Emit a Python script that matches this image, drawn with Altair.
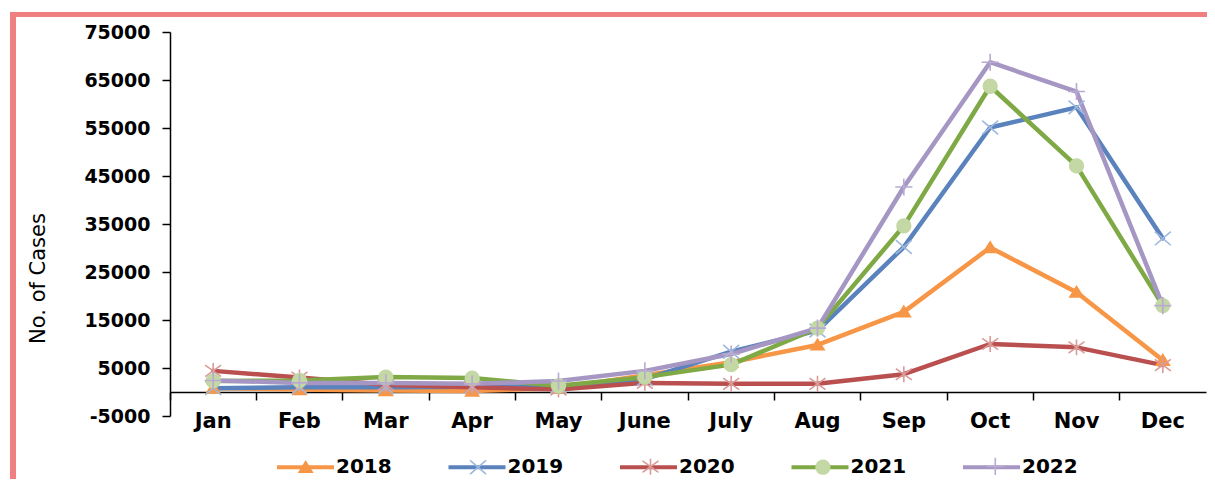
import altair as alt
import pandas as pd

# ---------------- data ----------------
months = ["Jan", "Feb", "Mar", "Apr", "May", "June", "July", "Aug", "Sep", "Oct", "Nov", "Dec"]
years = ["2018", "2019", "2020", "2021", "2022"]

cases_2018 = [800, 500, 300, 200, 800, 3500, 6200, 9800, 16700, 30100, 20800, 6600]
cases_2019 = [800, 1000, 1000, 1100, 1200, 2700, 8400, 12800, 30200, 55100, 59300, 32000]
cases_2020 = [4400, 3000, 1500, 1000, 500, 1900, 1700, 1700, 3700, 10000, 9300, 5600]
cases_2021 = [2300, 2400, 3100, 2900, 1300, 3100, 5700, 13300, 34600, 63700, 47100, 18000]
cases_2022 = [2400, 1900, 1900, 1700, 2300, 4400, 7900, 13300, 42700, 68700, 62600, 18000]

y_ticks = [-5000, 5000, 15000, 25000, 35000, 45000, 55000, 65000, 75000]

# ---------------- styles ----------------
line_colors = ["#f79646", "#5a82bd", "#b9504f", "#7fa945", "#a596c3"]
marker_colors = ["#f79646", "#9fb8df", "#d99a98", "#c3d8a4", "#b8aad0"]
border_color = "#f07f7f"

# custom symbol paths (unit frame -1..1); the leading moves keep the same extent
BB = "M-1,0M1,0"
marker_paths = [
    BB + "M0,-0.2L0.23,0.17L-0.23,0.17Z",                                   # triangle
    BB + "M-0.28,-0.24L0.28,0.24M-0.28,0.24L0.28,-0.24",                     # x
    BB + "M-0.28,-0.2L0.28,0.2M-0.28,0.2L0.28,-0.2M0,-0.28V0.28",            # asterisk
    BB + "M-0.24,0A0.24,0.24,0,1,1,0.24,0A0.24,0.24,0,1,1,-0.24,0Z",         # circle
    BB + "M-0.3,0H0.3M0,-0.3V0.3",                                           # plus
]
SYM = 3249  # 57px wide legend symbols

series = [cases_2018, cases_2019, cases_2020, cases_2021, cases_2022]
rows = []
for yr, vals in zip(years, series):
    for i, (m, v) in enumerate(zip(months, vals)):
        rows.append({"Month": m, "MonthIdx": i, "Year": yr, "Cases": v})
df = pd.DataFrame(rows)

W, H = 1036, 384

common_legend = dict(
    orient="none", legendY=404.5, direction="horizontal", columns=5,
    labelFont="DejaVu Sans", labelFontWeight="bold", labelFontSize=20,
    labelColor="black", padding=0, title=None, symbolSize=SYM,
)
legA = alt.Legend(symbolType="M-1,0H1", symbolStrokeWidth=4, legendX=105,
                  columnPadding=48.5, labelOffset=0, **common_legend)
legB = alt.Legend(labelExpr="''", symbolStrokeWidth=1.6, symbolOpacity=1, legendX=106.2,
                  columnPadding=107.4, labelOffset=0, **common_legend)

base = alt.Chart(df).encode(
    x=alt.X(
        "Month:N",
        scale=alt.Scale(type="band", domain=months, paddingInner=0, paddingOuter=0),
        axis=alt.Axis(
            title=None, bandPosition=0, offset=-24,
            tickSize=8, tickWidth=1.5, tickColor="black", domainColor="black", domainWidth=1.5,
            labelFont="DejaVu Sans", labelFontWeight="bold", labelFontSize=21, labelColor="black",
            labelPadding=10, labelAngle=0, labelOverlap=False, grid=False,
        ),
    ),
    y=alt.Y(
        "Cases:Q",
        scale=alt.Scale(domain=[-5000, 75000], nice=False, zero=False),
        axis=alt.Axis(
            values=y_ticks, labelExpr="'' + datum.value", grid=False,
            tickSize=8, tickWidth=1.5, tickColor="black", domainColor="black", domainWidth=1.5,
            labelFont="DejaVu Sans", labelFontWeight="bold", labelFontSize=19, labelColor="black",
            labelPadding=12,
            title="No. of Cases", titleFont="DejaVu Sans", titleFontSize=21,
            titleFontWeight="normal", titleColor="black", titleX=-132, titleY=246,
            titleAngle=270, titleAlign="center", titleBaseline="middle",
        ),
    ),
)

lines = base.mark_line(strokeWidth=4.5, strokeJoin="round", strokeCap="round").encode(
    color=alt.Color("Year:N", scale=alt.Scale(range=line_colors), legend=legA),
    order=alt.Order("MonthIdx:Q"),
)

markers = base.mark_point(size=SYM, strokeWidth=1.6, opacity=1).encode(
    fill=alt.Fill("Year:N", scale=alt.Scale(domain=years, range=marker_colors), legend=legB),
    stroke=alt.Stroke("Year:N", scale=alt.Scale(domain=years, range=marker_colors), legend=legB),
    shape=alt.Shape("Year:N", scale=alt.Scale(domain=years, range=marker_paths), legend=legB),
)

frame_data = alt.Data(values=[{"k": 0}])
left_border = alt.Chart(frame_data).mark_rule(color=border_color, strokeWidth=6).encode(
    x=alt.value(-157), y=alt.value(-20), y2=alt.value(470)
)
top_border = alt.Chart(frame_data).mark_rule(color=border_color, strokeWidth=5).encode(
    x=alt.value(-160), x2=alt.value(1100), y=alt.value(-17.5)
)

chart = (
    alt.layer(lines, markers, left_border, top_border)
    .properties(
        width=W, height=H,
        autosize=alt.AutoSizeParams(type="none"),
        padding={"left": 162, "top": 24, "right": 1, "bottom": 63},
        background="white",
    )
    .configure_view(strokeWidth=0)
)

chart.save("out.html", embed_options={"renderer": "svg", "actions": False})
